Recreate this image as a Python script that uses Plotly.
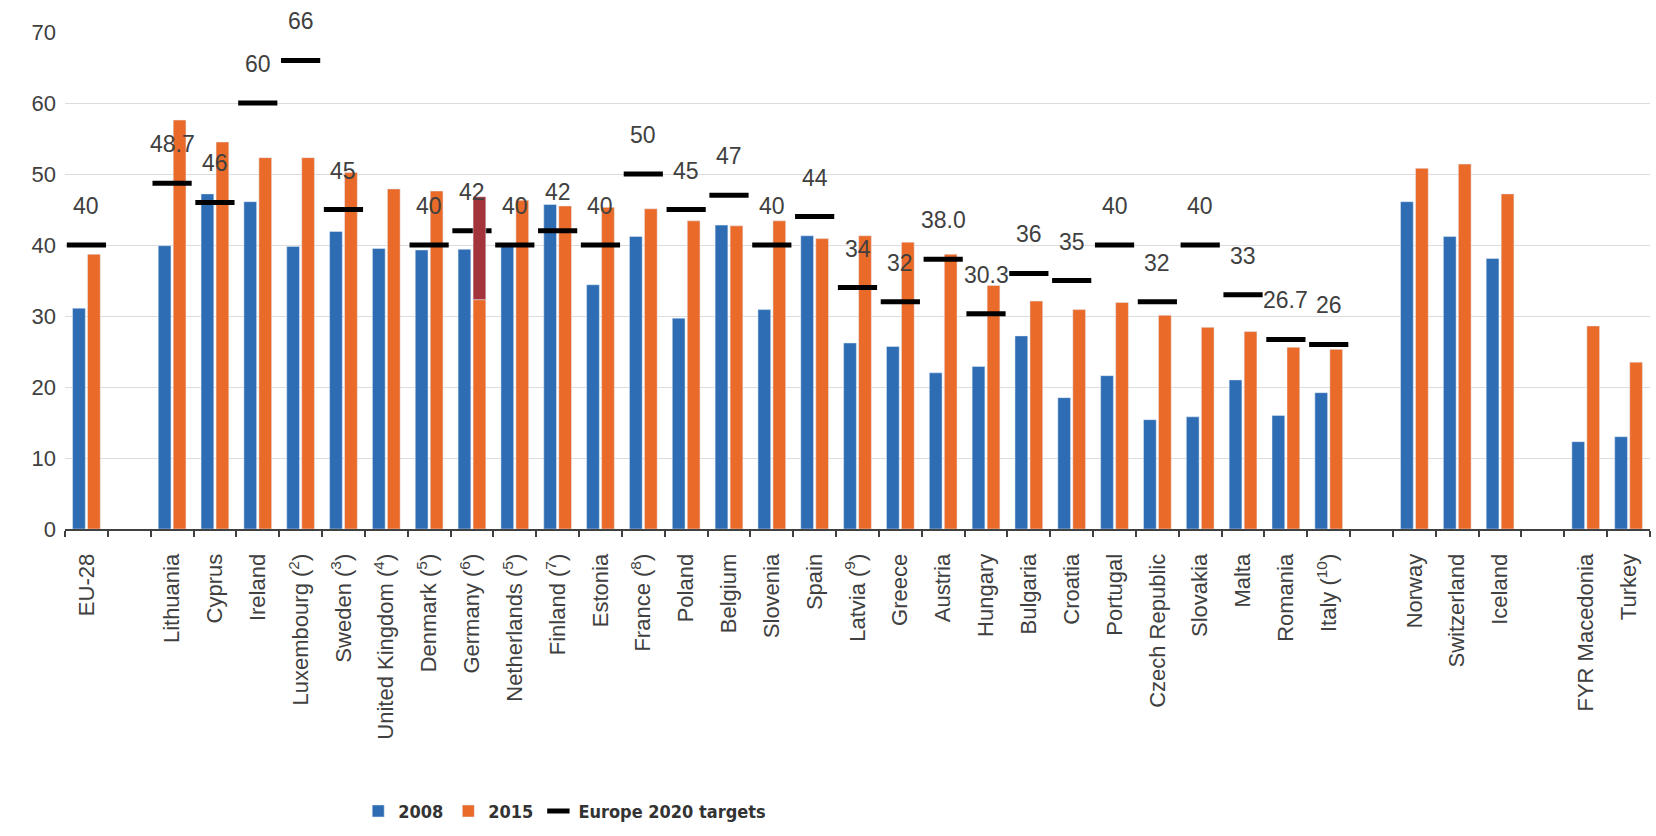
import plotly.graph_objects as go

# Category slots along the x axis; blank entries are spacer slots between groups
countries = [
    "EU-28", " ",
    "Lithuania", "Cyprus", "Ireland", "Luxembourg (<sup>2</sup>)", "Sweden (<sup>3</sup>)",
    "United Kingdom (<sup>4</sup>)", "Denmark (<sup>5</sup>)", "Germany (<sup>6</sup>)",
    "Netherlands (<sup>5</sup>)", "Finland (<sup>7</sup>)", "Estonia", "France (<sup>8</sup>)",
    "Poland", "Belgium", "Slovenia", "Spain", "Latvia (<sup>9</sup>)", "Greece", "Austria",
    "Hungary", "Bulgaria", "Croatia", "Portugal", "Czech Republic", "Slovakia", "Malta",
    "Romania", "Italy (<sup>10</sup>)", "  ",
    "Norway", "Switzerland", "Iceland", "   ",
    "FYR Macedonia", "Turkey",
]

# Tertiary educational attainment, age 30-34 (%)
share_2008 = [
    31.1, None,
    39.9, 47.2, 46.1, 39.8, 41.9, 39.5, 39.3, 39.4, 40.2, 45.7, 34.4, 41.2,
    29.7, 42.8, 30.9, 41.3, 26.2, 25.7, 22.0, 22.9, 27.2, 18.5, 21.6, 15.4,
    15.8, 21.0, 16.0, 19.2, None,
    46.1, 41.2, 38.1, None,
    12.3, 13.0,
]
share_2015 = [
    38.7, None,
    57.6, 54.5, 52.3, 52.3, 50.2, 47.9, 47.6, 32.3, 46.3, 45.5, 45.3, 45.1,
    43.4, 42.7, 43.4, 40.9, 41.3, 40.4, 38.7, 34.3, 32.1, 30.9, 31.9, 30.1,
    28.4, 27.8, 25.6, 25.3, None,
    50.8, 51.4, 47.2, None,
    28.6, 23.5,
]
# Germany 2015 including post-secondary non-tertiary (ISCED 4)
germany_with_isced4 = 46.8
germany_label = "Germany (<sup>6</sup>)"

# Europe 2020 national targets
targets = [
    40, None,
    48.7, 46, 60, 66, 45, None, 40, 42, 40, 42, 40, 50,
    45, 47, 40, 44, 34, 32, 38.0, 30.3, 36, 35, 40, 32,
    40, 33, 26.7, 26, None,
    None, None, None, None,
    None, None,
]
target_labels = [
    "40", "",
    "48.7", "46", "60", "66", "45", "", "40", "42", "40", "42", "40", "50",
    "45", "47", "40", "44", "34", "32", "38.0", "30.3", "36", "35", "40", "32",
    "40", "33", "26.7", "26", "",
    "", "", "", "",
    "", "",
]

BLUE = "#2E6DB4"
ORANGE = "#EA6A2A"
DARKRED = "#A3343B"
TEXT = "#404040"
FONT = "Liberation Sans, Arial, sans-serif"
NARROW = ("Liberation Sans Narrow, Arial Narrow, DejaVu Sans Condensed, "
          "Liberation Sans, Arial, sans-serif")

fig = go.Figure()
fig.add_trace(go.Bar(name="2008", x=countries, y=share_2008, marker_color=BLUE))
fig.add_trace(go.Bar(name="2015", x=countries, y=share_2015, marker_color=ORANGE))
fig.add_trace(go.Scatter(
    name="Europe 2020 targets", x=countries, y=targets, mode="markers",
    marker=dict(symbol="line-ew", size=28, color="black",
                line=dict(color="black", width=5)),
))

# Germany ISCED 4 segment, stacked on the 2015 bar on an overlaid y axis
de_idx = countries.index(germany_label)
bargap, groupgap = 0.3, 0.15
slot = (1 - bargap) / 2
bar_w = slot * (1 - groupgap)
fig.add_trace(go.Bar(
    x=[germany_label], y=[germany_with_isced4 - share_2015[de_idx]],
    base=[share_2015[de_idx]], marker_color=DARKRED, showlegend=False,
    yaxis="y2", offset=slot / 2 - bar_w / 2, width=bar_w,
))

for c, v, t in zip(countries, targets, target_labels):
    if v is None:
        continue
    fig.add_annotation(x=c, y=v, text=t, showarrow=False, yshift=39,
                       font=dict(family=FONT, size=23, color=TEXT))

fig.update_layout(
    width=1656, height=836,
    margin=dict(l=65, r=6, t=32, b=297),
    paper_bgcolor="white", plot_bgcolor="white",
    barmode="group", bargap=bargap, bargroupgap=groupgap,
    font=dict(family=FONT, size=19, color=TEXT),
    showlegend=True,
    legend=dict(orientation="h", x=0.185, xanchor="left", y=-0.568, yanchor="middle",
                font=dict(family=NARROW, size=18, color="#333333", weight="bold"),
                itemwidth=30, traceorder="normal"),
    xaxis=dict(
        type="category", categoryorder="array", categoryarray=countries,
        range=[-0.5, len(countries) - 0.5], automargin=False,
        tickangle=-90, tickson="boundaries", ticks="outside", ticklen=6,
        tickcolor=TEXT, tickwidth=1.5, ticklabelstandoff=14,
        showline=True, linecolor=TEXT, linewidth=2,
        showgrid=False, tickfont=dict(family=FONT, size=22, color=TEXT),
    ),
    yaxis=dict(
        range=[0, 70], dtick=10, showgrid=True, gridcolor="#DCDCDC", gridwidth=1,
        zeroline=False, showline=False, ticks="", automargin=False,
        tickfont=dict(family=FONT, size=22, color=TEXT), ticklabelstandoff=8,
    ),
    yaxis2=dict(range=[0, 70], overlaying="y", visible=False, showgrid=False),
)

fig.write_html("out.html")
